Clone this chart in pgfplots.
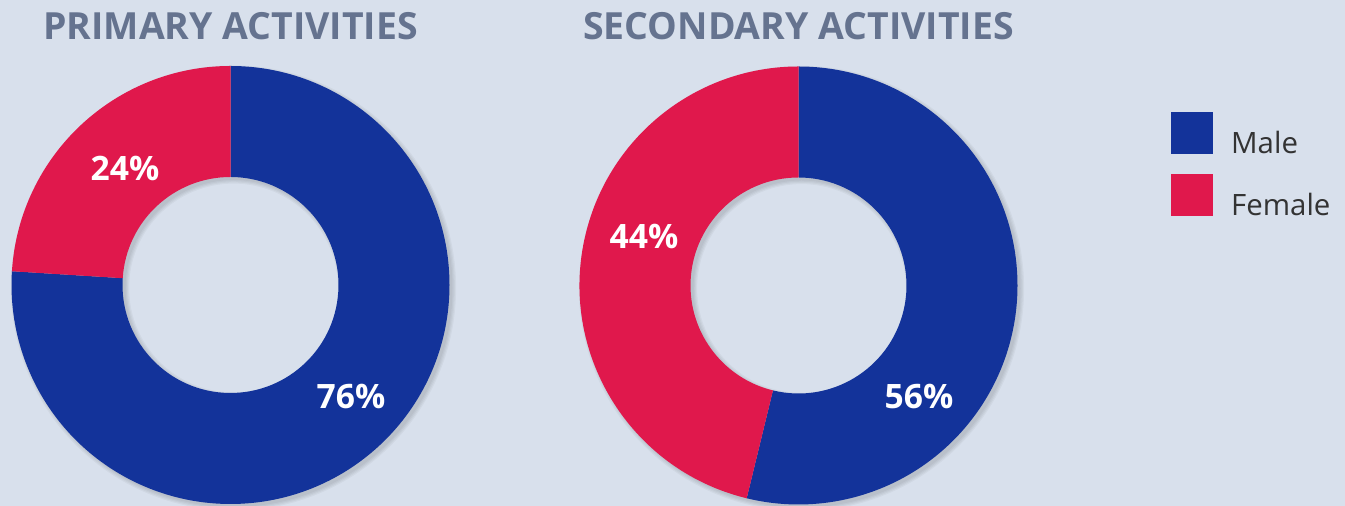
\documentclass[border=0pt]{standalone}
\usepackage{fontspec}
\setmainfont{Open Sans}
\usepackage{pgfplots}
\usepackage{pgfplotstable}
\pgfplotsset{compat=1.18}

\definecolor{bg}{HTML}{D8E0EC}
\definecolor{male}{HTML}{13339A}
\definecolor{female}{HTML}{E0184C}
\definecolor{ttl}{HTML}{65738F}
\definecolor{txt}{HTML}{333333}

% donut centres (px, y from bottom) and shares in percent
\pgfplotstableread{
cx    cy    male  female
230.5 221   76    24
798.5 220.5 53.8  46.2
}\donuts

\pgfplotstablegetelem{0}{male}\of\donuts \let\primM\pgfplotsretval
\pgfplotstablegetelem{1}{male}\of\donuts \let\secM\pgfplotsretval
\pgfmathsetmacro\primA{90-3.6*\primM}
\pgfmathsetmacro\secA{90-3.6*\secM}

% annular sector: cx, cy, start angle, end angle, colour
\newcommand\sector[5]{%
  \fill[#5] (axis cs:{#1+219*cos(#3)},{#2+219*sin(#3)})
    arc[start angle=#3,end angle=#4,radius=109.5pt]
    -- (axis cs:{#1+108*cos(#4)},{#2+108*sin(#4)})
    arc[start angle=#4,end angle=#3,radius=54pt] -- cycle;}

% soft shadow of a ring: cx, cy, outer radius, inner radius
\newcommand\shadowlayer[4]{%
  \fill[black,fill opacity=0.035,even odd rule]
    (axis cs:{#1+3},{#2-3}) circle[radius=#3]
    (axis cs:{#1+3},{#2-3}) circle[radius=#4];}
\newcommand\shadowring[2]{%
  \shadowlayer{#1}{#2}{109.5pt}{54pt}%
  \shadowlayer{#1}{#2}{110.1pt}{53.4pt}%
  \shadowlayer{#1}{#2}{110.7pt}{52.8pt}%
  \shadowlayer{#1}{#2}{111.3pt}{52.2pt}}

\begin{document}
\begin{tikzpicture}
\begin{axis}[
  scale only axis, width=672.5pt, height=253pt,
  xmin=0, xmax=1345, ymin=0, ymax=506,
  hide axis, clip=false,
  legend style={at={(0.8706,0.7787)}, anchor=north west, draw=none, fill=none,
    inner sep=0pt, row sep=8.8pt, column sep=9pt,
    nodes={inner sep=0pt, text=txt, font=\fontsize{14.7}{17}\selectfont},
    cells={anchor=base west}},
]
\fill[bg] (axis cs:0,0) rectangle (axis cs:1345,506);
\coordinate (sw) at (axis cs:0,0);
\coordinate (ne) at (axis cs:1345,506);

\shadowring{230.5}{221}
\sector{230.5}{221}{90}{\primA}{male}
\sector{230.5}{221}{\primA}{-270}{female}

\shadowring{798.5}{220.5}
\sector{798.5}{220.5}{90}{\secA}{male}
\sector{798.5}{220.5}{\secA}{-270}{female}

\node[anchor=base, text=ttl, font=\fontsize{18.7}{22}\selectfont\bfseries]
  at (axis cs:230.5,466) {PRIMARY ACTIVITIES};
\node[anchor=base, text=ttl, font=\fontsize{18.7}{22}\selectfont\bfseries]
  at (axis cs:798.5,466) {SECONDARY ACTIVITIES};

\node[anchor=base, text=white, font=\fontsize{16.8}{20}\selectfont\bfseries] at (axis cs:125,325) {24\%};
\node[anchor=base, text=white, font=\fontsize{16.8}{20}\selectfont\bfseries] at (axis cs:351,97) {76\%};
\node[anchor=base, text=white, font=\fontsize{16.8}{20}\selectfont\bfseries] at (axis cs:644,257) {44\%};
\node[anchor=base, text=white, font=\fontsize{16.8}{20}\selectfont\bfseries] at (axis cs:919,97) {56\%};

\addlegendimage{legend image code/.code={\fill[male] (0pt,0pt) rectangle (20.5pt,20.5pt);}}
\addlegendentry{Male}
\addlegendimage{legend image code/.code={\fill[female] (0pt,0pt) rectangle (20.5pt,20.5pt);}}
\addlegendentry{Female}
\end{axis}
\pgfresetboundingbox
\useasboundingbox (sw) rectangle (ne);
\end{tikzpicture}
\end{document}
